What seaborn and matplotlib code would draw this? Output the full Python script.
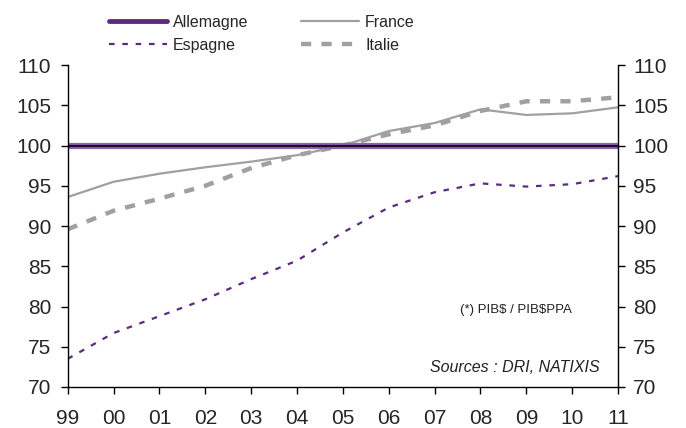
import matplotlib
matplotlib.use("Agg")
import matplotlib.pyplot as plt
import seaborn as sns
import pandas as pd
from matplotlib.lines import Line2D

# Index 2005 = 100 (PIB$ / PIB$PPA)
years = list(range(1999, 2012))
year_labels = ["99", "00", "01", "02", "03", "04", "05", "06", "07", "08", "09", "10", "11"]
allemagne = [100, 100, 100, 100, 100, 100, 100, 100, 100, 100, 100, 100, 100]
france = [93.6, 95.5, 96.5, 97.3, 98.0, 98.8, 100.0, 101.8, 102.8, 104.5, 103.8, 104.0, 104.75]
espagne = [73.5, 76.7, 78.8, 80.9, 83.4, 85.7, 89.2, 92.3, 94.2, 95.3, 94.9, 95.2, 96.2]
italie = [89.6, 91.9, 93.4, 95.0, 97.2, 98.8, 100.0, 101.4, 102.5, 104.3, 105.5, 105.5, 106.0]

purple = "#5b2a82"
light_purple = "#8e64b0"
grey = "#a0a0a0"

sns.set_theme(style="ticks")
plt.rcParams["font.family"] = ["Liberation Sans", "DejaVu Sans"]

df = pd.DataFrame({"annee": years, "Allemagne": allemagne, "France": france,
                   "Espagne": espagne, "Italie": italie})

fig = plt.figure(figsize=(6.86, 4.28), dpi=100)
ax = fig.add_axes([0.0987, 0.0958, 0.8023, 0.7522])

sns.lineplot(data=df, x="annee", y="Espagne", ax=ax, color=purple, lw=1.6,
             linestyle=(0, (2.5, 3.5)))
sns.lineplot(data=df, x="annee", y="France", ax=ax, color=grey, lw=1.6)
sns.lineplot(data=df, x="annee", y="Italie", ax=ax, color=grey, lw=3.2,
             linestyle=(0, (2.3, 2.3)))
sns.lineplot(data=df, x="annee", y="Allemagne", ax=ax, color=light_purple, lw=4.5)
sns.lineplot(data=df, x="annee", y="Allemagne", ax=ax, color="#1e0a2a", lw=1.6)

ax.set_xlim(1999, 2011)
ax.set_ylim(70, 110)
ax.set_xticks(years)
ax.set_xticklabels(year_labels)
ax.set_yticks(range(70, 111, 5))
ax.set_xlabel("")
ax.set_ylabel("")
ax.tick_params(axis="y", labelsize=15, length=5, width=1, color="black",
               direction="out", pad=7)
ax.tick_params(axis="x", labelsize=15, length=5, width=1, color="black",
               direction="out", pad=11)

ax2 = ax.twinx()
ax2.set_ylim(70, 110)
ax2.set_yticks(range(70, 111, 5))
ax2.tick_params(axis="y", labelsize=15, length=5, width=1, color="black",
                direction="out", pad=6)

for a in (ax, ax2):
    a.spines["top"].set_visible(False)
    for s in ("left", "right", "bottom"):
        a.spines[s].set_color("black")
        a.spines[s].set_linewidth(1)
ax.spines["right"].set_visible(False)
ax2.spines["left"].set_visible(False)
ax2.spines["bottom"].set_visible(False)

ax.text(0.916, 0.239, "(*) PIB\\$ / PIB\\$PPA", transform=ax.transAxes, ha="right",
        va="center", fontsize=9.5, color="#222222")
ax.text(0.966, 0.062, "Sources : DRI, NATIXIS", transform=ax.transAxes, ha="right",
        va="center", fontsize=11.5, style="italic", color="#222222")

handles = [
    Line2D([], [], color=purple, lw=3.5),
    Line2D([], [], color=purple, lw=1.6, linestyle=(0, (2.5, 3.5))),
    Line2D([], [], color=grey, lw=1.6),
    Line2D([], [], color=grey, lw=3.2, linestyle=(0, (2.3, 2.3))),
]
labels = ["Allemagne", "Espagne", "France", "Italie"]
fig.legend(handles, labels, ncol=2, loc="upper left", bbox_to_anchor=(0.145, 0.988),
           frameon=False, fontsize=11.5, handlelength=3.6, handletextpad=0.4,
           columnspacing=3.3, labelspacing=0.5, borderaxespad=0.2)

fig.savefig("out.png", dpi=100)
